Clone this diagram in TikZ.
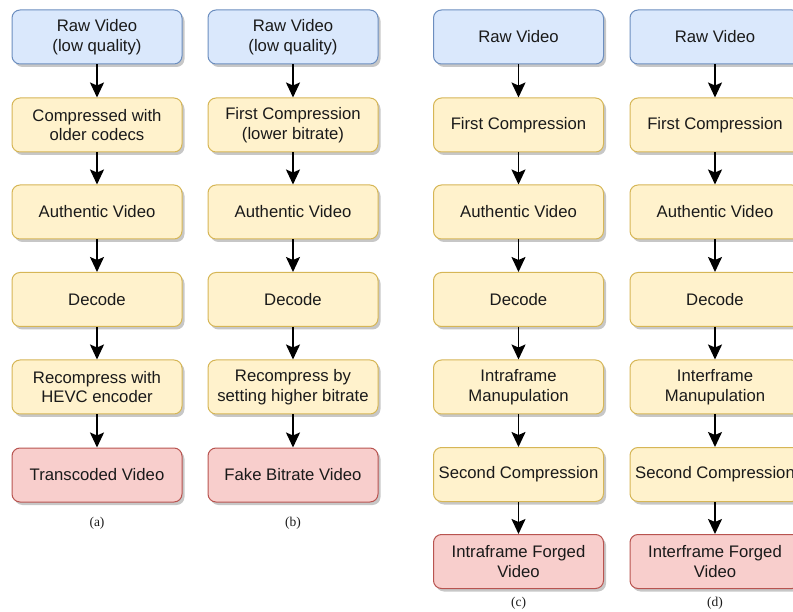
\documentclass[tikz,border=0pt]{standalone}
\usepackage{fontspec}
\setmainfont{Liberation Sans}
\newfontfamily\capfont{Liberation Serif}
\usetikzlibrary{arrows.meta,shadows}

\definecolor{rawfill}{HTML}{DAE8FC}
\definecolor{rawline}{HTML}{6C8EBF}
\definecolor{stepfill}{HTML}{FFF2CC}
\definecolor{stepline}{HTML}{D6B656}
\definecolor{outfill}{HTML}{F8CECC}
\definecolor{outline}{HTML}{B85450}
\definecolor{txt}{HTML}{1A1A1A}

\tikzset{
  box/.style={rectangle, rounded corners=8pt, line width=1pt,
    minimum width=170pt, minimum height=54pt, inner sep=2pt,
    align=center, text=txt,
    font=\fontsize{16.7}{19.5}\selectfont,
    drop shadow={shadow xshift=2.5pt, shadow yshift=-3pt, opacity=0.22, fill=black}},
  rawbox/.style={box, draw=rawline, fill=rawfill},
  stepbox/.style={box, draw=stepline, fill=stepfill},
  outbox/.style={box, draw=outline, fill=outfill},
  flow/.style={-{Stealth[length=15pt,width=14pt,inset=3pt]}, line width=1.7pt, black},
  caption/.style={font=\capfont\fontsize{13.5}{15}\selectfont, text=txt}
}

\begin{document}
\begin{tikzpicture}[x=1pt, y=-1pt]
\useasboundingbox (0,0) rectangle (793,612);

% column (a): transcoding
\node[rawbox]  (a1) at (97,37)    {Raw Video\\(low quality)};
\node[stepbox] (a2) at (97,125)   {Compressed with\\older codecs};
\node[stepbox] (a3) at (97,212)   {Authentic Video};
\node[stepbox] (a4) at (97,299.5) {Decode};
\node[stepbox] (a5) at (97,387)   {Recompress with\\HEVC encoder};
\node[outbox]  (a6) at (97,475)   {Transcoded Video};
\node[caption] (la) at (97,523)   {(a)};

% column (b): fake bitrate
\node[rawbox]  (b1) at (293,37)    {Raw Video\\(low quality)};
\node[stepbox] (b2) at (293,125)   {First Compression\\(lower bitrate)};
\node[stepbox] (b3) at (293,212)   {Authentic Video};
\node[stepbox] (b4) at (293,299.5) {Decode};
\node[stepbox] (b5) at (293,387)   {Recompress by\\setting higher bitrate};
\node[outbox]  (b6) at (293,475)   {Fake Bitrate Video};
\node[caption] (lb) at (293,523)   {(b)};

% column (c): intraframe forgery
\node[rawbox]  (c1) at (518.5,37)    {Raw Video};
\node[stepbox] (c2) at (518.5,125)   {First Compression};
\node[stepbox] (c3) at (518.5,212)   {Authentic Video};
\node[stepbox] (c4) at (518.5,299.5) {Decode};
\node[stepbox] (c5) at (518.5,387)   {Intraframe\\Manupulation};
\node[stepbox] (c6) at (518.5,474.5) {Second Compression};
\node[outbox]  (c7) at (518.5,561.5) {Intraframe Forged\\Video};
\node[caption] (lc) at (518.5,603)   {(c)};

% column (d): interframe forgery
\node[rawbox]  (d1) at (715,37)    {Raw Video};
\node[stepbox] (d2) at (715,125)   {First Compression};
\node[stepbox] (d3) at (715,212)   {Authentic Video};
\node[stepbox] (d4) at (715,299.5) {Decode};
\node[stepbox] (d5) at (715,387)   {Interframe\\Manupulation};
\node[stepbox] (d6) at (715,474.5) {Second Compression};
\node[outbox]  (d7) at (715,561.5) {Interframe Forged\\Video};
\node[caption] (ld) at (715,603)   {(d)};

% connectors
\foreach \c in {a,b}{
  \foreach \i [count=\j from 2] in {1,...,5}{
    \draw[flow] (\c\i) -- (\c\j);
  }
}
\foreach \c in {c,d}{
  \foreach \i [count=\j from 2] in {1,...,6}{
    \draw[flow] (\c\i) -- (\c\j);
  }
}
\end{tikzpicture}
\end{document}
